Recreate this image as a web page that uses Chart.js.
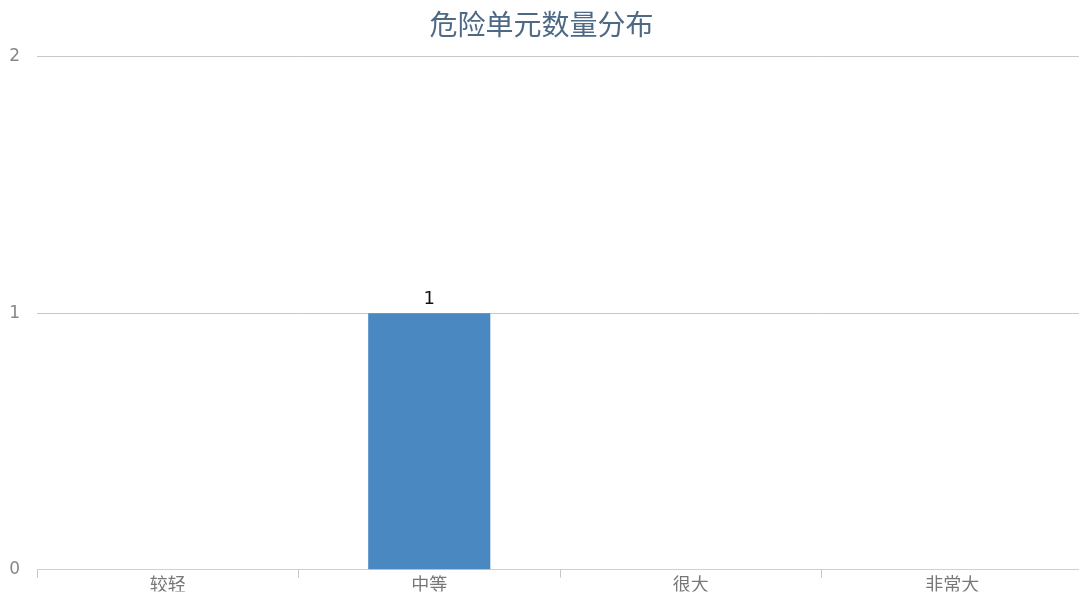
<!DOCTYPE html>
<html>
<head>
<meta charset="utf-8">
<script src="https://cdn.jsdelivr.net/npm/chart.js@4"></script>
<style>
  html, body { margin: 0; padding: 0; background: #fff; overflow: hidden; }
  #wrap { width: 1083px; height: 597px; }
</style>
</head>
<body>
<div id="wrap"><canvas id="c"></canvas></div>
<script>
// 数据
const categories = ["较轻", "中等", "很大", "非常大"];
const counts = [0, 1, 0, 0];
const yTicks = [0, 1, 2];

const FONT = "'Noto Sans CJK SC', 'Microsoft YaHei', sans-serif";

// 柱顶数值
const valueLabels = {
  id: "valueLabels",
  afterDatasetsDraw(chart){
    const ctx = chart.ctx;
    const meta = chart.getDatasetMeta(0);
    ctx.save();
    ctx.fillStyle = "#111";
    ctx.font = "18px 'DejaVu Sans', sans-serif";
    ctx.textAlign = "center";
    ctx.textBaseline = "bottom";
    meta.data.forEach((bar, i) => {
      if (!counts[i]) return;
      ctx.fillText(String(counts[i]), bar.x, bar.y - 5);
    });
    ctx.restore();
  }
};

new Chart(document.getElementById("c"), {
  type: "bar",
  data: {
    labels: categories,
    datasets: [{
      data: counts,
      backgroundColor: "#4a88c2",
      borderWidth: 0,
      barPercentage: 0.467,
      categoryPercentage: 1
    }]
  },
  options: {
    responsive: true,
    maintainAspectRatio: false,
    animation: false,
    layout: { padding: { left: 0, right: 0, top: 0, bottom: 5 } },
    plugins: {
      legend: { display: false },
      tooltip: { enabled: false },
      title: {
        display: true,
        text: "危险单元数量分布",
        color: "#4e6985",
        font: { family: FONT, size: 28, weight: "normal" },
        padding: { top: 8, bottom: 15 }
      }
    },
    scales: {
      x: {
        offset: true,
        grid: {
          offset: true,
          drawOnChartArea: false,
          drawTicks: true,
          tickLength: 8,
          color: "#c8c8c8"
        },
        border: { display: true, color: "#c4d2e2", width: 1 },
        ticks: {
          color: "#777",
          padding: -4,
          font: { family: FONT, size: 18 }
        }
      },
      y: {
        min: 0,
        max: 2,
        afterBuildTicks(axis){ axis.ticks = yTicks.map(v => ({ value: v })); },
        afterFit(axis){ axis.width = 37; },
        grid: { color: "#c8c8c8", drawTicks: false },
        border: { display: false },
        ticks: {
          color: "#888",
          padding: 17,
          font: { family: "'DejaVu Sans', sans-serif", size: 17 }
        }
      }
    }
  },
  plugins: [valueLabels]
});
</script>
</body>
</html>
